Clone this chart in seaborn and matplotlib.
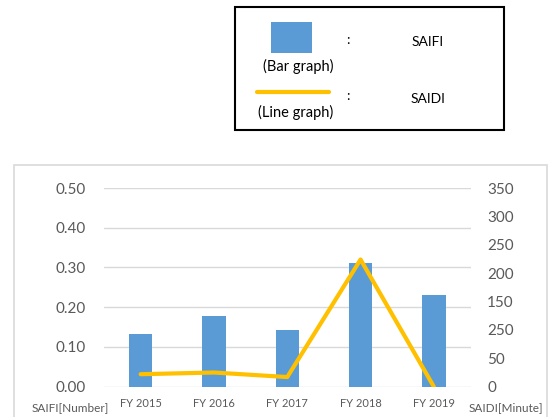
import matplotlib
matplotlib.use("Agg")
import matplotlib.pyplot as plt
from matplotlib.patches import Rectangle
from matplotlib.lines import Line2D
from matplotlib.ticker import FixedLocator, FixedFormatter
import seaborn as sns
import pandas as pd

# Reliability indices by fiscal year
years = ["FY 2015", "FY 2016", "FY 2017", "FY 2018", "FY 2019"]
saifi = [0.132, 0.177, 0.143, 0.311, 0.230]   # interruptions per customer
saidi = [22, 25, 17, 224, 0]                   # minutes per customer

left_ticks = [0.0, 0.1, 0.2, 0.3, 0.4, 0.5]
right_ticks = [0, 50, 100, 150, 200, 250, 300, 350]
right_tick_labels = ["0", "50", "250", "150", "200", "250", "300", "350"]

BLUE = "#5B9BD5"
GOLD = "#FFC000"
TEXT = "#595959"
GRID = "#D9D9D9"

sns.set_theme(style="white")
plt.rcParams["font.family"] = ["Lato", "DejaVu Sans"]

df = pd.DataFrame({"year": years, "saifi": saifi, "saidi": saidi})

W, H = 552, 417
fig = plt.figure(figsize=(W / 100, H / 100), dpi=100)

# Outer chart frame
fig.patches.append(Rectangle((14 / W, -0.05), (547 - 14) / W, 1 - 165 / H + 0.05,
                             transform=fig.transFigure, fill=False,
                             edgecolor=GRID, linewidth=1.2))

ax = fig.add_axes([104 / W, 1 - 386.7 / H, (470.5 - 104) / W, (386.7 - 188) / H])
sns.barplot(data=df, x="year", y="saifi", ax=ax, color=BLUE, width=0.32,
            saturation=1, edgecolor="none")
ax.set_ylim(0, 0.5)
ax.yaxis.set_major_locator(FixedLocator(left_ticks))
ax.set_yticklabels([f"{v:.2f}" for v in left_ticks])
ax.grid(axis="y", color=GRID, linewidth=1)
ax.set_axisbelow(True)
ax.set_xlabel("")
ax.set_ylabel("")
for s in ax.spines.values():
    s.set_visible(False)
ax.tick_params(axis="y", length=0, pad=13, labelsize=11, labelcolor=TEXT)
ax.tick_params(axis="x", length=0, pad=8, labelsize=8, labelcolor=TEXT)

ax2 = ax.twinx()
sns.pointplot(data=df, x="year", y="saidi", ax=ax2, color=GOLD, markers="",
              linewidth=3)
ax2.set_ylim(0, 350)
ax2.yaxis.set_major_locator(FixedLocator(right_ticks))
ax2.yaxis.set_major_formatter(FixedFormatter(right_tick_labels))
ax2.set_ylabel("")
ax2.set_xlabel("")
ax2.grid(False)
for s in ax2.spines.values():
    s.set_visible(False)
ax2.tick_params(axis="y", length=0, pad=12, labelsize=11, labelcolor=TEXT)
ax.set_xlim(-0.5, 4.5)

fig.text(70 / W, 1 - 408 / H, "SAIFI[Number]", ha="center", va="center",
         fontsize=8.5, color=TEXT)
fig.text(506 / W, 1 - 408 / H, "SAIDI[Minute]", ha="center", va="center",
         fontsize=8.5, color=TEXT)

# Key box above the chart
fig.patches.append(Rectangle((234.7 / W, 1 - 130 / H), (504 - 234.7) / W, (130 - 7.3) / H,
                             transform=fig.transFigure, fill=False,
                             edgecolor="black", linewidth=1.5))
fig.patches.append(Rectangle((271 / W, 1 - 53 / H), 41 / W, 31 / H,
                             transform=fig.transFigure, facecolor=BLUE,
                             edgecolor="none"))
fig.lines.append(Line2D([257 / W, 329 / W], [1 - 92 / H, 1 - 92 / H],
                        transform=fig.transFigure, color=GOLD, linewidth=3))
kw = dict(ha="center", va="center", color="black")
fig.text(298 / W, 1 - 66 / H, "(Bar graph)", fontsize=10.5, **kw)
fig.text(296 / W, 1 - 112 / H, "(Line graph)", fontsize=10.5, **kw)
fig.text(348 / W, 1 - 40 / H, ":", fontsize=10, **kw)
fig.text(348 / W, 1 - 96 / H, ":", fontsize=10, **kw)
fig.text(428 / W, 1 - 42 / H, "SAIFI", fontsize=10, **kw)
fig.text(428 / W, 1 - 99 / H, "SAIDI", fontsize=10, **kw)

fig.savefig("out.png", dpi=100)
